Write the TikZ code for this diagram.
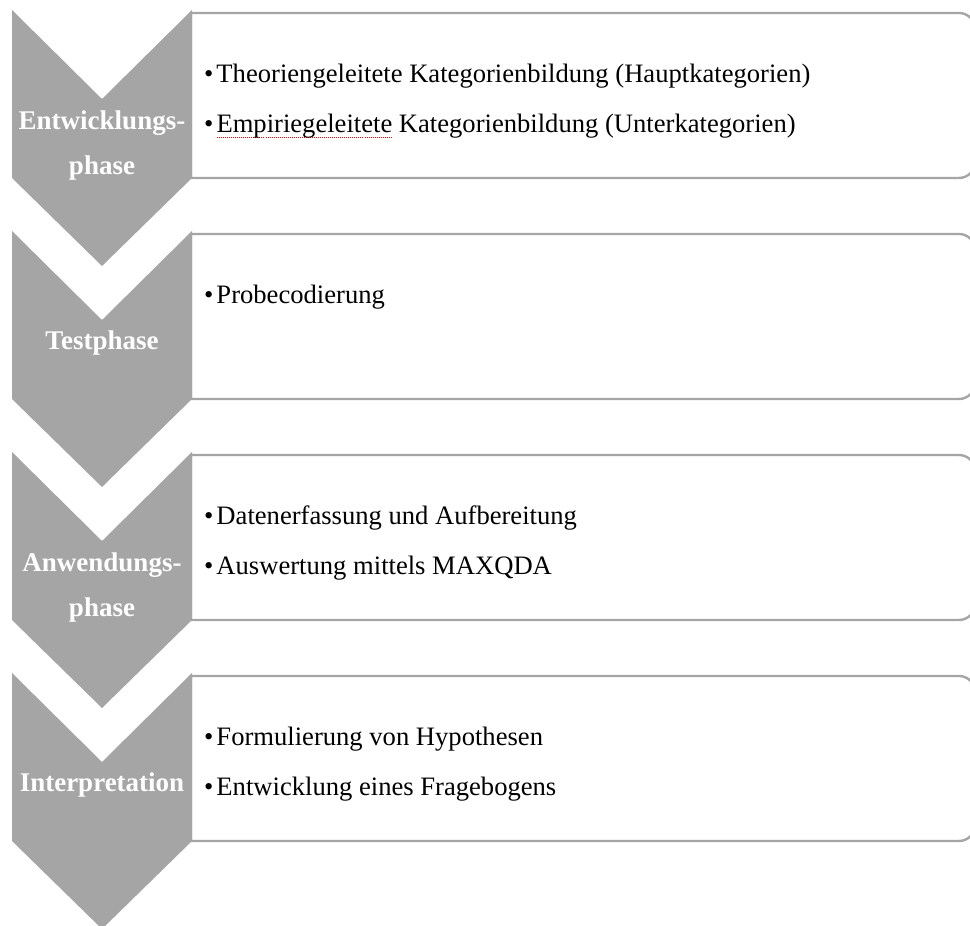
\documentclass[tikz,border=0pt]{standalone}
\usepackage{fontspec}
\setmainfont{Liberation Serif}
\definecolor{chev}{HTML}{A5A5A5}
\definecolor{boxline}{HTML}{A5A5A5}
\newcommand\redwave[1]{\leavevmode\setbox0\hbox{#1}\rlap{\color{red}\raisebox{-4.5pt}{\hbox to \wd0{\xleaders\hbox to 2pt{\hss\rule{1pt}{0.8pt}\hss}\hfill}}}\box0\relax}
\tikzset{
  chevshape/.style={fill=chev, draw=none},
  listbox/.style={draw=boxline, line width=2.4pt, fill=white},
  lbl/.style={text=white, font=\fontsize{27}{30}\selectfont\bfseries, inner sep=0pt, anchor=base},
  item/.style={text=black, font=\fontsize{26.6}{30}\selectfont, inner sep=0pt, anchor=base west},
}
\begin{document}
\begin{tikzpicture}[x=1pt,y=1pt]
\useasboundingbox (0,0) rectangle (970,926);
\clip (0,0) rectangle (970,926);
\foreach \i in {0,1,2,3}{
  \pgfmathsetmacro{\top}{916-221*\i}
  \pgfmathsetmacro{\bt}{\top-3}
  \pgfmathsetmacro{\bb}{\top-168}
  \pgfmathsetmacro{\bbr}{\top-168+16}
  \draw[listbox] (191,\bt) -- (959,\bt) arc[start angle=90,end angle=0,radius=16] -- (975,\bbr) arc[start angle=0,end angle=-90,radius=16] -- (191,\bb) -- cycle;
  \fill[chevshape] (12,\top) -- (102,\top-89) -- (192,\top) -- (192,\top-168) -- (102,\top-256) -- (12,\top-168) -- cycle;
}
% labels
\node[lbl] (l1a) at (102,916-120) {Entwicklungs-};
\node[lbl] (l1b) at (102,916-165) {phase};
\node[lbl] (l2) at (102,695-119) {Testphase};
\node[lbl] (l3a) at (102,474-120) {Anwendungs-};
\node[lbl] (l3b) at (102,474-165) {phase};
\node[lbl] (l4) at (102,253-119) {Interpretation};
% items
\node[item] (t1a) at (204,916-73) {•\kern3pt Theoriengeleitete Kategorienbildung (Hauptkategorien)};
\node[item] (t1b) at (204,916-123) {•\kern3pt\redwave{Empiriegeleitete} Kategorienbildung (Unterkategorien)};
\node[item] (t2) at (204,695-73) {•\kern3pt Probecodierung};
\node[item] (t3a) at (204,474-73) {•\kern3pt Datenerfassung und Aufbereitung};
\node[item] (t3b) at (204,474-123) {•\kern3pt Auswertung mittels MAXQDA};
\node[item] (t4a) at (204,253-73) {•\kern3pt Formulierung von Hypothesen};
\node[item] (t4b) at (204,253-123) {•\kern3pt Entwicklung eines Fragebogens};
\end{tikzpicture}
\end{document}
